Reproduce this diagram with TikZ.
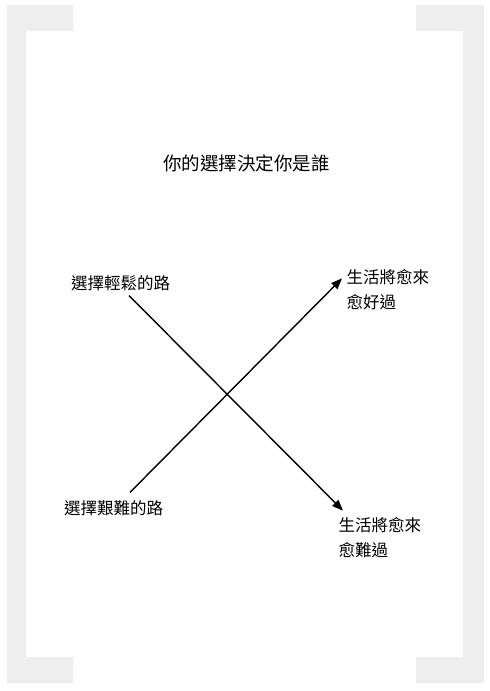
\documentclass[tikz,border=0pt]{standalone}
\usepackage{fontspec}
\newfontfamily\cjk{Noto Sans CJK TC}
\usetikzlibrary{arrows.meta}
\definecolor{bracketgray}{HTML}{EEEEEE}
\tikzset{
  label/.style={inner sep=0pt, font=\cjk\fontsize{16.5}{25}\selectfont},
  road/.style={line width=1.4pt, -{Triangle[length=11pt,width=8.5pt]}}
}
\begin{document}
\begin{tikzpicture}[x=1pt,y=-1pt]
\useasboundingbox (0,0) rectangle (490,691);
\fill[bracketgray] (7,5) -- (73,5) -- (73,31) -- (26,31) -- (26,657) -- (73,657) -- (73,683) -- (7,683) -- cycle; % left bracket
\fill[bracketgray] (484,5) -- (416,5) -- (416,31) -- (463,31) -- (463,657) -- (416,657) -- (416,683) -- (484,683) -- cycle; % right bracket

\node[label, font=\cjk\fontsize{18.5}{22}\selectfont] (title) at (246.5,163) {你的選擇決定你是誰};

\node[label] (easy) at (120.5,283) {選擇輕鬆的路};
\node[label] (hard) at (113.5,508) {選擇艱難的路};
\node[label, align=left, anchor=west] (better) at (346.5,289.5) {生活將愈來\\愈好過};
\node[label, align=left, anchor=west] (worse) at (338.5,538) {生活將愈來\\愈難過};

\draw[road] ([xshift=8.5pt,yshift=-4.7pt]easy.south) -- ([xshift=4.5pt,yshift=7pt]worse.north west);
\draw[road] ([xshift=16.5pt,yshift=7.75pt]hard.north) -- ([xshift=-4.5pt,yshift=-9.25pt]better.north west);
\end{tikzpicture}
\end{document}
